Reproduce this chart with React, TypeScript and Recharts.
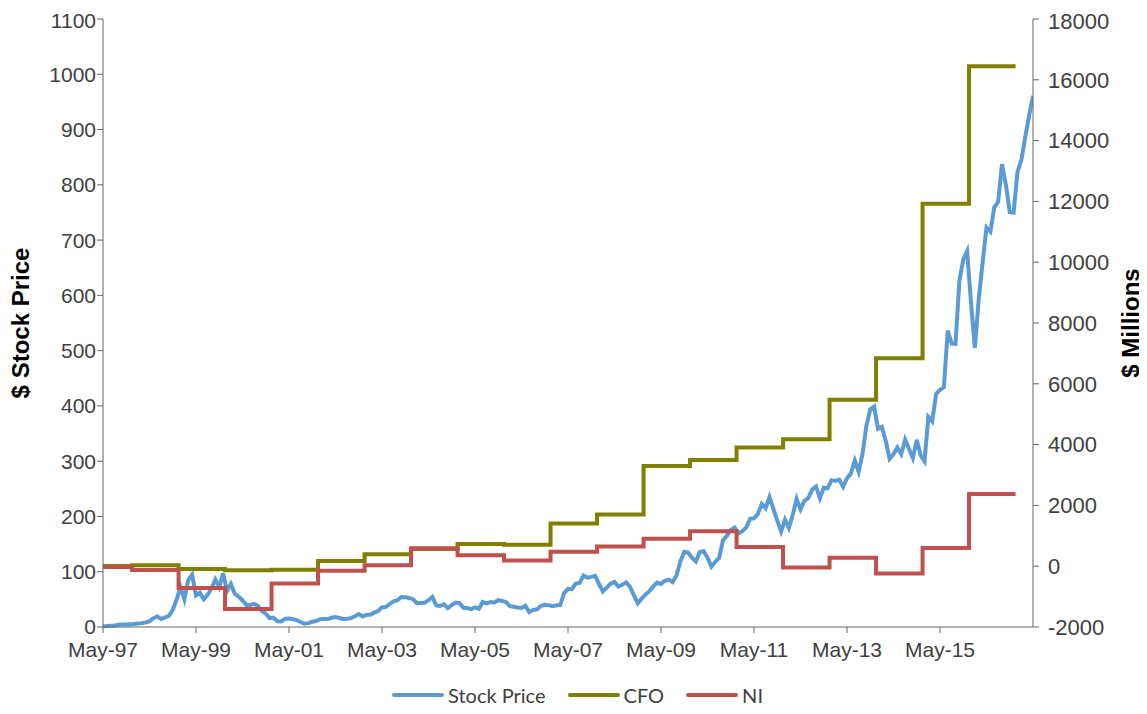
import { Line, LineChart, XAxis, YAxis } from 'recharts'

// x axis: months since the IPO (May-97), tick every two years
const xTickLabels = ['May-97', 'May-99', 'May-01', 'May-03', 'May-05', 'May-07', 'May-09', 'May-11', 'May-13', 'May-15']
const xTicks = xTickLabels.map((_, i) => i * 24)

const leftTicks = [0, 100, 200, 300, 400, 500, 600, 700, 800, 900, 1000, 1100]
const rightTicks = [-2000, 0, 2000, 4000, 6000, 8000, 10000, 12000, 14000, 16000, 18000]

// monthly stock price, May-97 .. May-17
const stockPrice = [
  1.5, 1.7, 2.4, 2.6, 4.0, 4.3, 4.6, 5.0,
  5.3, 6.2, 7.0, 8.0, 10.5, 16.0, 19.0, 14.5, 17.5, 20.0, 31.0, 50.0,
  72.0, 50.0, 85.0, 95.0, 57.0, 62.0, 50.0, 58.0, 70.0, 86.0, 72.0, 97.0,
  65.0, 78.0, 60.0, 55.0, 48.0, 40.0, 40.0, 42.0, 38.0, 29.0, 24.0, 16.0,
  17.0, 10.5, 10.0, 15.0, 15.5, 14.0, 12.5, 9.0, 6.0, 7.0, 9.5, 10.8,
  14.0, 14.5, 14.3, 16.7, 18.2, 16.3, 14.5, 15.0, 16.0, 19.4, 23.4, 19.0,
  22.0, 22.0, 26.0, 28.7, 35.9, 36.3, 42.0, 46.3, 48.4, 54.4, 54.0, 52.6,
  50.4, 43.0, 43.3, 43.6, 48.5, 54.4, 38.9, 38.1, 40.9, 34.1, 39.7, 44.3,
  43.2, 34.6, 34.3, 32.4, 35.5, 33.1, 45.2, 42.7, 45.3, 44.3, 48.5, 47.2,
  45.2, 37.9, 36.5, 35.2, 34.6, 38.7, 26.9, 30.8, 32.1, 38.1, 40.3, 39.5,
  37.7, 39.1, 39.8, 61.3, 69.1, 68.4, 78.5, 79.9, 93.2, 89.2, 90.6, 92.6,
  77.7, 64.5, 71.3, 78.6, 81.6, 73.3, 76.3, 80.8, 72.8, 57.2, 42.7, 51.3,
  58.8, 64.8, 73.4, 80.5, 78.0, 83.7, 85.8, 81.2, 93.4, 118.8, 135.9, 134.5,
  125.4, 118.4, 135.8, 137.1, 125.5, 109.3, 117.9, 124.8, 157.0, 165.2, 175.4, 180.0,
  169.6, 173.3, 180.1, 195.8, 196.7, 204.5, 222.5, 215.0, 235.0, 213.5, 192.3, 173.1,
  194.4, 179.7, 202.5, 231.9, 212.9, 228.4, 233.3, 248.3, 254.3, 232.9, 252.0, 250.9,
  265.5, 264.3, 266.5, 253.8, 269.2, 277.7, 301.2, 281.0, 312.6, 364.0, 393.6, 398.8,
  358.7, 362.1, 336.4, 304.1, 312.6, 324.8, 313.0, 339.0, 322.4, 305.5, 338.6, 310.4,
  300.0, 380.2, 372.1, 421.8, 429.2, 434.1, 536.2, 512.9, 511.9, 625.9, 664.8, 680.0,
  587.0, 505.0, 593.6, 659.6, 722.8, 715.6, 758.8, 769.2, 837.3, 800.0, 750.6, 749.9,
  823.5, 845.0, 886.5, 925.0, 961.0,
]

// annual figures, $ millions, fiscal 1997 .. 2016
const years = [1997, 1998, 1999, 2000, 2001, 2002, 2003, 2004, 2005, 2006, 2007, 2008, 2009, 2010, 2011, 2012, 2013, 2014, 2015, 2016]
const cfo = [4, 31, -91, -130, -120, 174, 392, 566, 733, 702, 1405, 1697, 3293, 3495, 3903, 4180, 5475, 6842, 11920, 16443]
const ni = [-28, -125, -720, -1411, -567, -149, 35, 588, 359, 190, 476, 645, 902, 1152, 631, -39, 274, -241, 596, 2371]

const stockData = stockPrice.map((price, i) => ({ x: i, price }))

// each year's value is held from the previous year end to its own year end
const stepData = [
  { x: 0, cfo: cfo[0], ni: ni[0] },
  ...years.map((y, i) => ({
    x: (y - 1997) * 12 + 7.5,
    cfo: cfo[i + 1] ?? cfo[i],
    ni: ni[i + 1] ?? ni[i],
  })),
]

const series = [
  { name: 'Stock Price', color: '#5B9BD5' },
  { name: 'CFO', color: '#808000' },
  { name: 'NI', color: '#C0504D' },
]

const font = 'Liberation Sans, Arial, sans-serif'
const tickStyle = { fontSize: 21, fontFamily: font, fill: '#404040' }
const rightTickStyle = { ...tickStyle, fontSize: 22 }
const titleStyle = { fontSize: 24, fontWeight: 700, fontFamily: font, fill: '#000', textAnchor: 'middle' as const }

function ChartLegend() {
  return (
    <div
      style={{
        position: 'absolute',
        top: 675,
        left: 0,
        width: 1139,
        display: 'flex',
        justifyContent: 'center',
        gap: 22,
        fontFamily: 'Lato, sans-serif',
        fontSize: 20,
        lineHeight: '24px',
        color: '#404040',
      }}
    >
      {series.map((s) => (
        <div key={s.name} style={{ display: 'flex', alignItems: 'center' }}>
          <svg width={52} height={10} style={{ marginRight: 4 }}>
            <line x1={2} y1={5} x2={50} y2={5} stroke={s.color} strokeWidth={4} strokeLinecap="round" />
          </svg>
          <span>{s.name}</span>
        </div>
      ))}
    </div>
  )
}

export default function App() {
  return (
    <div style={{ position: 'relative', width: 1131, height: 698 }}>
      <LineChart width={1139} height={698} margin={{ top: 11, right: 0, bottom: 49, left: 0 }}>
        <XAxis
          dataKey="x"
          type="number"
          domain={[0, 240]}
          ticks={xTicks}
          tickFormatter={(v) => xTickLabels[v / 24]}
          tick={tickStyle}
          tickSize={6}
          tickMargin={9}
          height={30}
          stroke="#666"
          allowDataOverflow
        />
        <YAxis
          yAxisId="left"
          domain={[0, 1100]}
          ticks={leftTicks}
          tick={tickStyle}
          tickSize={6}
          tickMargin={1}
          width={95}
          stroke="#666"
          label={{ value: '$ Stock Price', angle: -90, position: 'insideLeft', offset: 12, style: titleStyle }}
        />
        <YAxis
          yAxisId="right"
          orientation="right"
          domain={[-2000, 18000]}
          ticks={rightTicks}
          tick={rightTickStyle}
          tickSize={6}
          tickMargin={9}
          width={114}
          stroke="#666"
          label={{ value: '$ Millions', angle: -90, position: 'insideRight', offset: 17, style: titleStyle }}
        />
        <Line
          yAxisId="left"
          data={stockData}
          dataKey="price"
          name="Stock Price"
          type="linear"
          stroke="#5B9BD5"
          strokeWidth={4}
          dot={false}
          isAnimationActive={false}
        />
        <Line
          yAxisId="right"
          data={stepData}
          dataKey="cfo"
          name="CFO"
          type="stepAfter"
          stroke="#808000"
          strokeWidth={4}
          dot={false}
          isAnimationActive={false}
        />
        <Line
          yAxisId="right"
          data={stepData}
          dataKey="ni"
          name="NI"
          type="stepAfter"
          stroke="#C0504D"
          strokeWidth={4}
          dot={false}
          isAnimationActive={false}
        />
      </LineChart>
      <ChartLegend />
    </div>
  )
}
